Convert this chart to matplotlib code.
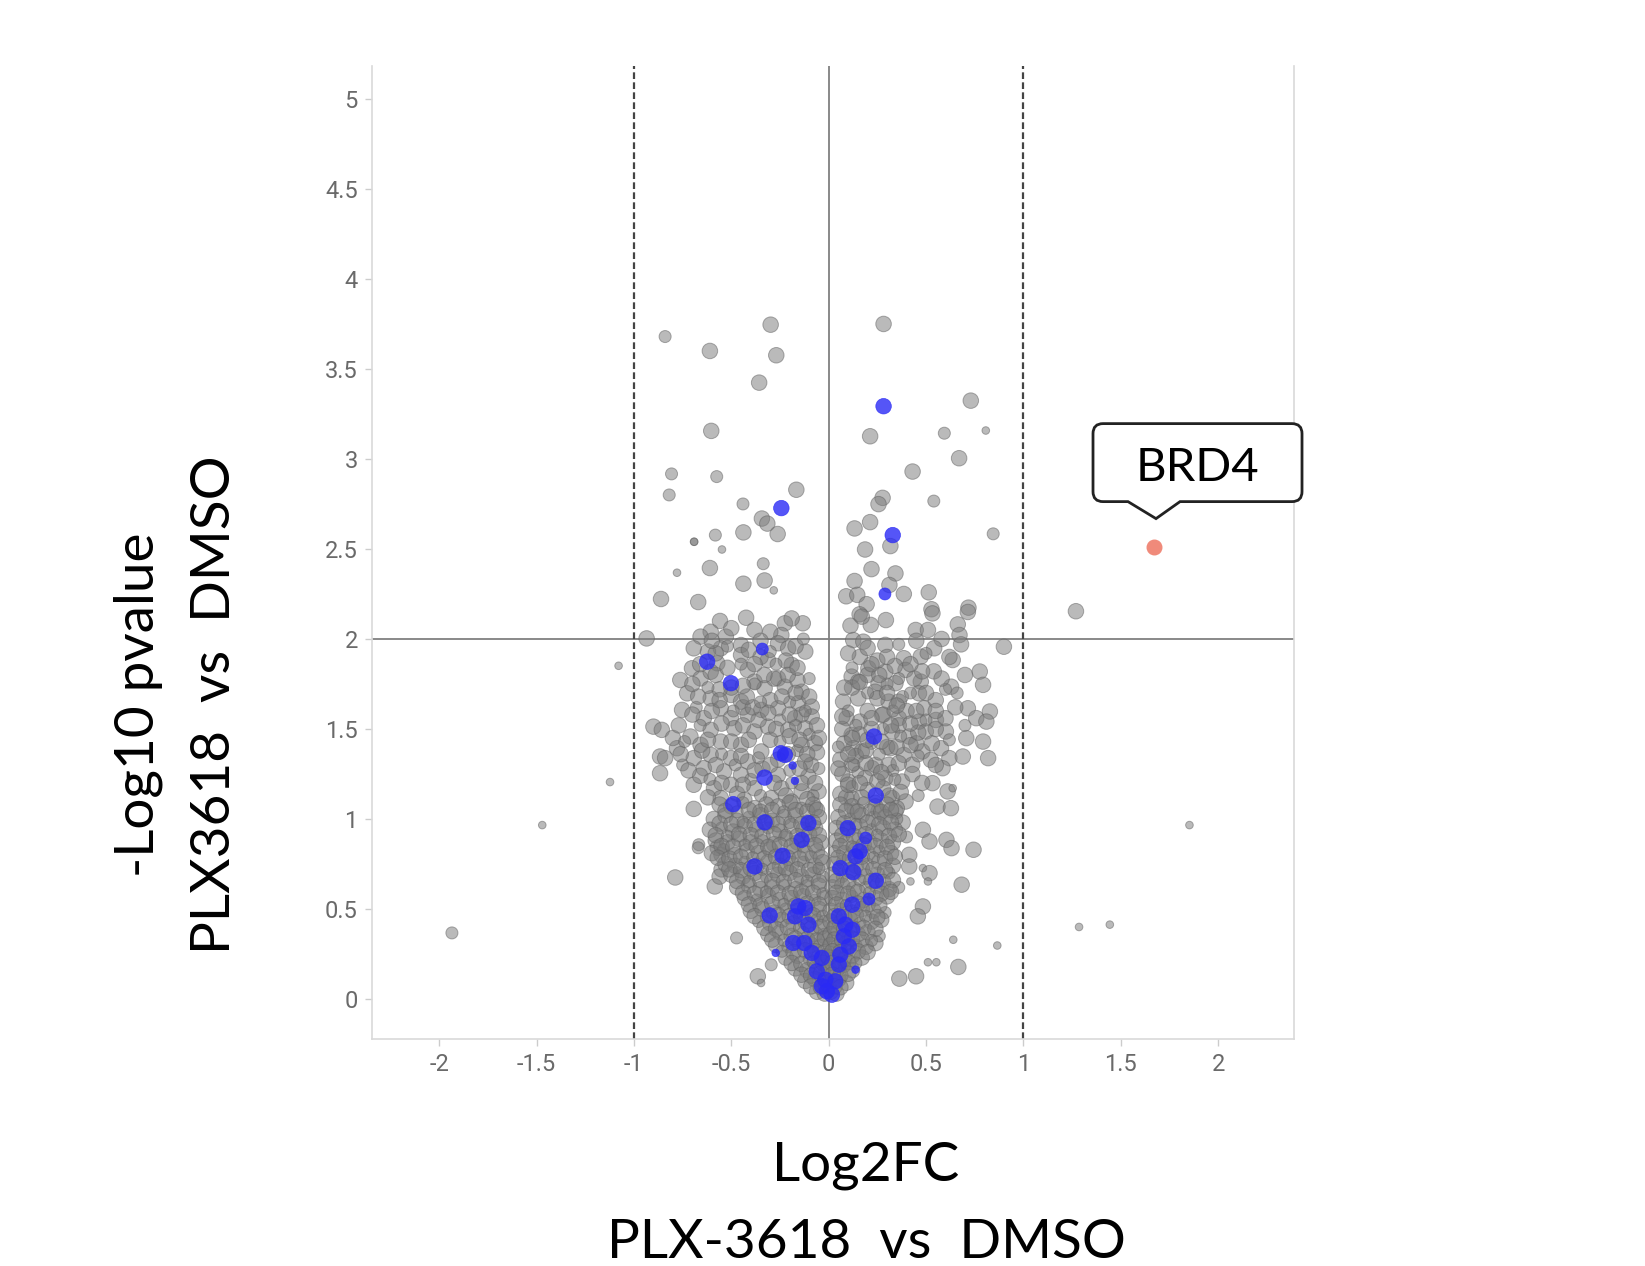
import numpy as np
import matplotlib

matplotlib.use('Agg')
import matplotlib.pyplot as plt
from matplotlib.path import Path
from matplotlib.patches import PathPatch
from matplotlib.transforms import IdentityTransform

# ---- data: (log2FC, -log10 p, weight 1=small 2=medium 3=large) ----
gray_upper = [
    (-0.298, 3.746, 3), (-0.84, 3.68, 2), (-0.61, 3.60, 3), (-0.269, 3.576, 3),
    (-0.357, 3.424, 3), (-0.603, 3.156, 3), (-0.807, 2.917, 2), (-0.575, 2.902, 2),
    (-0.819, 2.80, 2), (-0.166, 2.829, 3), (-0.44, 2.75, 2), (-0.343, 2.669, 3),
    (-0.315, 2.641, 3), (-0.262, 2.583, 3), (-0.438, 2.592, 3), (-0.582, 2.577, 2),
    (-0.691, 2.54, 1), (-0.691, 2.54, 1), (-0.548, 2.497, 1), (-0.61, 2.394, 3),
    (-0.336, 2.418, 2), (-0.779, 2.368, 1), (-0.438, 2.307, 3), (-0.329, 2.325, 3),
    (-0.282, 2.27, 1), (-0.861, 2.222, 3), (-0.67, 2.205, 3), (-0.935, 2.003, 3),
    (-0.558, 2.10, 3), (-0.424, 2.118, 3), (-0.606, 2.04, 3), (-0.381, 2.05, 3),
    (-0.225, 2.087, 3), (-0.133, 2.087, 3), (-0.19, 2.114, 3), (-0.528, 2.013, 3),
    (-0.658, 2.013, 3), (-0.243, 2.022, 3), (-0.50, 2.06, 3), (-0.30, 2.04, 3),
    (0.282, 3.75, 3), (0.73, 3.324, 3), (0.213, 3.126, 3), (0.594, 3.143, 2),
    (0.807, 3.158, 1), (0.67, 3.004, 3), (0.431, 2.93, 3), (0.277, 2.784, 3),
    (0.256, 2.749, 3), (0.54, 2.766, 2), (0.133, 2.614, 3), (0.213, 2.649, 3),
    (0.317, 2.516, 3), (0.845, 2.584, 2), (0.187, 2.497, 3), (0.22, 2.388, 3),
    (0.343, 2.364, 3), (0.133, 2.322, 3), (0.312, 2.30, 3), (0.386, 2.25, 3),
    (0.514, 2.259, 3), (0.09, 2.237, 3), (0.147, 2.245, 3), (0.195, 2.193, 3),
    (0.528, 2.165, 3), (0.718, 2.174, 3), (0.159, 2.137, 3), (0.294, 2.105, 3),
    (0.112, 2.074, 3), (0.216, 2.078, 3), (0.447, 2.05, 3), (0.51, 2.05, 3),
    (0.663, 2.081, 3), (0.58, 2.0, 3), (0.90, 1.957, 3), (0.17, 2.124, 3),
    (0.126, 1.994, 3), (0.178, 1.985, 3), (0.291, 1.967, 3),
    (0.533, 2.142, 3), (0.672, 2.022, 3), (0.715, 2.15, 3), (0.542, 1.948, 3),
]

gray_outliers = [
    (-1.935, 0.367, 2), (-1.471, 0.966, 1), (-1.123, 1.205, 1), (-1.079, 1.851, 1),
    (1.27, 2.154, 3), (1.853, 0.966, 1), (1.286, 0.40, 1), (1.444, 0.413, 1),
    (0.866, 0.297, 1),
]

gray_left_cloud = [
    (-0.693, 1.948, 3), (-0.554, 1.948, 3), (-0.45, 1.966, 3), (-0.45, 1.911, 3),
    (-0.26, 1.976, 3), (-0.208, 1.948, 3), (-0.312, 1.883, 3), (-0.19, 1.856, 3),
    (-0.572, 1.865, 3), (-0.702, 1.837, 3), (-0.762, 1.772, 3), (-0.658, 1.781, 3),
    (-0.606, 1.818, 3), (-0.416, 1.828, 3), (-0.381, 1.763, 3), (-0.26, 1.781, 3),
    (-0.225, 1.735, 3), (-0.329, 1.726, 3), (-0.727, 1.698, 3), (-0.606, 1.67, 3),
    (-0.502, 1.689, 3), (-0.45, 1.652, 3), (-0.139, 1.707, 3), (-0.156, 1.643, 3),
    (-0.087, 1.624, 3), (-0.753, 1.606, 3), (-0.554, 1.615, 3), (-0.346, 1.606, 3),
    (-0.26, 1.615, 3), (-0.641, 1.56, 3), (-0.502, 1.56, 3), (-0.416, 1.578, 3),
    (-0.173, 1.56, 3), (-0.087, 1.569, 3), (-0.90, 1.513, 3), (-0.857, 1.495, 3),
    (-0.71, 1.458, 3), (-0.606, 1.495, 3), (-0.485, 1.504, 3), (-0.381, 1.486, 3),
    (-0.312, 1.513, 3), (-0.208, 1.495, 3), (-0.121, 1.504, 3), (-0.779, 1.393, 3),
    (-0.658, 1.412, 3), (-0.554, 1.43, 3), (-0.45, 1.412, 3), (-0.346, 1.375, 3),
    (-0.139, 1.412, 3), (-0.07, 1.421, 3), (-0.866, 1.347, 3), (-0.84, 1.338, 3),
    (-0.693, 1.338, 3), (-0.606, 1.356, 3), (-0.502, 1.338, 3), (-0.416, 1.319, 3),
    (-0.121, 1.319, 3), (-0.866, 1.254, 3), (-0.641, 1.282, 3), (-0.537, 1.264, 3),
    (-0.45, 1.245, 3), (-0.26, 1.245, 3), (-0.104, 1.236, 3), (-0.693, 1.19, 3),
    (-0.589, 1.171, 3), (-0.502, 1.19, 3), (-0.381, 1.171, 3), (-0.243, 1.171, 3),
    (-0.139, 1.153, 3), (-0.052, 1.153, 3), (-0.554, 1.116, 3), (-0.433, 1.106, 3),
    (-0.295, 1.116, 3), (-0.191, 1.097, 3), (-0.07, 1.06, 3),
    (-0.08, 1.13, 2), (-0.14, 1.20, 3), (-0.20, 1.27, 2), (-0.09, 1.30, 3),
    (-0.26, 1.33, 3), (-0.16, 1.38, 2), (-0.06, 1.37, 3), (-0.30, 1.44, 3),
    (-0.20, 1.46, 3), (-0.10, 1.47, 2), (-0.36, 1.55, 3), (-0.25, 1.55, 2),
    (-0.14, 1.58, 3), (-0.44, 1.62, 3), (-0.30, 1.66, 3), (-0.20, 1.65, 2),
    (-0.10, 1.68, 3), (-0.50, 1.73, 3), (-0.38, 1.75, 2), (-0.28, 1.78, 3),
    (-0.16, 1.77, 3), (-0.58, 1.80, 3), (-0.45, 1.86, 2), (-0.35, 1.90, 3),
    (-0.22, 1.88, 3), (-0.12, 1.93, 3), (-0.62, 1.93, 3), (-0.52, 1.96, 2),
    (-0.40, 1.22, 2), (-0.34, 1.28, 3), (-0.55, 1.36, 2), (-0.66, 1.24, 3),
    (-0.75, 1.30, 2), (-0.80, 1.45, 3), (-0.68, 1.62, 2), (-0.56, 1.72, 3),
]

gray_left_fill = [
    (-0.62, 1.12, 3), (-0.47, 1.14, 3), (-0.35, 1.13, 2), (-0.22, 1.13, 3), (-0.11, 1.11, 3),
    (-0.61, 1.22, 2), (-0.55, 1.20, 3), (-0.44, 1.19, 3), (-0.28, 1.20, 3), (-0.19, 1.20, 2),
    (-0.07, 1.20, 3), (-0.72, 1.27, 3), (-0.58, 1.30, 3), (-0.48, 1.30, 2), (-0.38, 1.27, 3),
    (-0.30, 1.30, 3), (-0.15, 1.28, 3), (-0.05, 1.28, 2), (-0.76, 1.36, 3), (-0.65, 1.38, 3),
    (-0.45, 1.35, 3), (-0.36, 1.34, 2), (-0.21, 1.36, 3), (-0.11, 1.36, 3), (-0.74, 1.43, 2),
    (-0.62, 1.44, 3), (-0.50, 1.43, 3), (-0.41, 1.44, 3), (-0.25, 1.43, 2), (-0.15, 1.44, 3),
    (-0.05, 1.45, 3), (-0.77, 1.52, 3), (-0.66, 1.52, 2), (-0.55, 1.53, 3), (-0.44, 1.52, 3),
    (-0.27, 1.50, 3), (-0.17, 1.52, 2), (-0.06, 1.52, 3), (-0.70, 1.58, 3), (-0.60, 1.60, 3),
    (-0.49, 1.60, 2), (-0.39, 1.62, 3), (-0.31, 1.59, 3), (-0.20, 1.58, 3), (-0.12, 1.60, 2),
    (-0.67, 1.68, 3), (-0.56, 1.66, 3), (-0.42, 1.68, 3), (-0.35, 1.65, 2), (-0.24, 1.68, 3),
    (-0.17, 1.70, 3), (-0.70, 1.75, 3), (-0.62, 1.73, 2), (-0.44, 1.74, 3), (-0.33, 1.80, 3),
    (-0.21, 1.80, 3), (-0.10, 1.78, 2), (-0.66, 1.86, 3), (-0.52, 1.84, 3), (-0.38, 1.86, 3),
    (-0.27, 1.86, 2), (-0.16, 1.84, 3), (-0.58, 1.92, 3), (-0.41, 1.94, 3), (-0.30, 1.93, 2),
    (-0.17, 1.96, 3), (-0.60, 1.99, 3), (-0.35, 1.99, 3), (-0.13, 2.00, 2),
]

gray_right_cloud = [
    (0.473, 1.902, 3), (0.386, 1.893, 3), (0.637, 1.883, 3), (0.776, 1.819, 3),
    (0.793, 1.745, 3), (0.629, 1.735, 3), (0.118, 1.791, 3), (0.204, 1.837, 3),
    (0.291, 1.818, 3), (0.395, 1.828, 3), (0.152, 1.763, 3), (0.256, 1.754, 3),
    (0.343, 1.754, 3), (0.473, 1.763, 3), (0.074, 1.652, 3), (0.152, 1.67, 3),
    (0.239, 1.707, 3), (0.308, 1.652, 3), (0.36, 1.652, 3), (0.464, 1.698, 3),
    (0.49, 1.615, 3), (0.715, 1.615, 3), (0.828, 1.597, 3), (0.092, 1.56, 3),
    (0.161, 1.541, 3), (0.274, 1.578, 3), (0.36, 1.56, 3), (0.464, 1.541, 3),
    (0.551, 1.55, 3), (0.758, 1.56, 3), (0.81, 1.541, 3), (0.602, 1.486, 3),
    (0.707, 1.449, 3), (0.793, 1.43, 3), (0.118, 1.467, 3), (0.326, 1.486, 3),
    (0.412, 1.458, 3), (0.499, 1.486, 3), (0.126, 1.393, 3), (0.17, 1.375, 3),
    (0.317, 1.393, 3), (0.386, 1.356, 3), (0.481, 1.375, 3), (0.577, 1.393, 3),
    (0.62, 1.338, 3), (0.689, 1.347, 3), (0.819, 1.338, 3), (0.118, 1.301, 3),
    (0.222, 1.282, 3), (0.308, 1.301, 3), (0.429, 1.301, 3), (0.525, 1.328, 3),
    (0.585, 1.282, 3), (0.10, 1.208, 3), (0.187, 1.227, 3), (0.291, 1.227, 3),
    (0.377, 1.208, 3), (0.533, 1.199, 3), (0.611, 1.153, 3), (0.637, 1.171, 1),
    (0.118, 1.116, 3), (0.326, 1.116, 3), (0.395, 1.097, 3), (0.559, 1.069, 3),
    (0.628, 1.06, 3), (0.135, 1.042, 3), (0.256, 1.042, 3), (0.343, 1.042, 3),
    (0.06, 1.14, 3), (0.12, 1.18, 2), (0.20, 1.16, 3), (0.28, 1.17, 3),
    (0.07, 1.25, 3), (0.15, 1.26, 2), (0.24, 1.30, 3), (0.33, 1.27, 2),
    (0.06, 1.33, 3), (0.14, 1.35, 3), (0.22, 1.42, 2), (0.30, 1.40, 3),
    (0.08, 1.42, 3), (0.16, 1.47, 3), (0.28, 1.50, 2), (0.36, 1.52, 3),
    (0.10, 1.60, 2), (0.20, 1.60, 3), (0.28, 1.58, 3), (0.40, 1.60, 3),
    (0.25, 1.67, 3), (0.38, 1.68, 2), (0.12, 1.73, 3), (0.20, 1.80, 3),
    (0.30, 1.75, 2), (0.25, 1.88, 3), (0.34, 1.85, 3), (0.16, 1.90, 3),
    (0.44, 1.78, 3), (0.42, 1.70, 2), (0.55, 1.66, 3), (0.66, 1.70, 2),
    (0.54, 1.82, 3), (0.70, 1.52, 2), (0.45, 1.42, 3), (0.62, 1.44, 2),
]

gray_right_fill = [
    (0.09, 1.12, 3), (0.17, 1.12, 3), (0.24, 1.10, 2), (0.31, 1.13, 3), (0.37, 1.15, 3),
    (0.46, 1.13, 2), (0.10, 1.19, 3), (0.16, 1.20, 3), (0.25, 1.21, 3), (0.34, 1.22, 2),
    (0.43, 1.25, 3), (0.48, 1.20, 3), (0.05, 1.28, 3), (0.13, 1.30, 2), (0.19, 1.31, 3),
    (0.27, 1.26, 3), (0.36, 1.31, 3), (0.46, 1.35, 2), (0.55, 1.30, 3), (0.10, 1.36, 3),
    (0.19, 1.38, 3), (0.26, 1.36, 2), (0.35, 1.40, 3), (0.42, 1.41, 3), (0.53, 1.42, 3),
    (0.05, 1.40, 2), (0.12, 1.45, 3), (0.20, 1.44, 3), (0.27, 1.43, 3), (0.37, 1.46, 2),
    (0.46, 1.48, 3), (0.55, 1.50, 3), (0.07, 1.50, 3), (0.14, 1.52, 2), (0.22, 1.50, 3),
    (0.32, 1.52, 3), (0.42, 1.53, 3), (0.50, 1.55, 2), (0.60, 1.56, 3), (0.07, 1.57, 3),
    (0.22, 1.56, 3), (0.33, 1.60, 2), (0.45, 1.60, 3), (0.55, 1.60, 3), (0.65, 1.62, 3),
    (0.20, 1.70, 2), (0.30, 1.70, 3), (0.35, 1.63, 3), (0.50, 1.70, 3), (0.60, 1.72, 2),
    (0.08, 1.73, 3), (0.16, 1.76, 3), (0.26, 1.80, 3), (0.36, 1.78, 2), (0.48, 1.82, 3),
    (0.58, 1.78, 3), (0.70, 1.80, 3), (0.12, 1.84, 2), (0.22, 1.86, 3), (0.30, 1.90, 3),
    (0.42, 1.86, 3), (0.50, 1.92, 2), (0.62, 1.90, 3), (0.10, 1.92, 3), (0.20, 1.95, 3),
    (0.36, 1.97, 2), (0.45, 1.99, 3), (0.68, 1.97, 3),
]

gray_lower_out = [
    (-0.693, 1.056, 3), (-0.667, 0.857, 2), (-0.67, 0.84, 2), (-0.788, 0.675, 3),
    (-0.585, 0.625, 3), (-0.471, 0.714, 1), (-0.473, 0.339, 2), (-0.295, 0.19, 2),
    (-0.364, 0.126, 3), (-0.347, 0.089, 1), (-0.57, 0.84, 3), (-0.55, 0.80, 3),
    (-0.55, 0.72, 3), (-0.56, 0.68, 3),
    (0.484, 0.94, 3), (0.518, 0.875, 3),
    (0.605, 0.884, 3), (0.631, 0.838, 3), (0.744, 0.829, 3), (0.414, 0.801, 3),
    (0.414, 0.736, 3), (0.484, 0.727, 1), (0.518, 0.699, 3), (0.42, 0.653, 1),
    (0.51, 0.653, 1), (0.683, 0.635, 3), (0.484, 0.514, 3), (0.458, 0.459, 3),
    (0.64, 0.329, 1), (0.51, 0.204, 1), (0.553, 0.204, 1), (0.666, 0.178, 3),
    (0.363, 0.113, 3), (0.449, 0.126, 3), (0.38, 0.98, 3), (0.40, 0.90, 2),
]

gray_core_left = [
    (-0.56, 1.08, 3), (-0.50, 1.07, 3), (-0.44, 1.09, 2), (-0.38, 1.06, 3), (-0.32, 1.08, 3),
    (-0.26, 1.07, 3), (-0.20, 1.09, 3), (-0.14, 1.06, 2), (-0.08, 1.08, 3),
    (-0.59, 1.00, 3), (-0.53, 1.02, 3), (-0.47, 0.99, 3), (-0.41, 1.01, 2), (-0.35, 1.02, 3),
    (-0.29, 0.99, 3), (-0.23, 1.01, 3), (-0.17, 1.02, 3), (-0.11, 0.99, 2), (-0.05, 1.01, 3),
    (-0.61, 0.94, 3), (-0.55, 0.95, 2), (-0.49, 0.93, 3), (-0.43, 0.96, 3), (-0.37, 0.94, 3),
    (-0.31, 0.95, 2), (-0.25, 0.93, 3), (-0.19, 0.96, 3), (-0.13, 0.94, 3), (-0.07, 0.95, 3),
    (-0.58, 0.88, 3), (-0.52, 0.87, 3), (-0.46, 0.89, 3), (-0.40, 0.87, 3), (-0.34, 0.88, 2),
    (-0.28, 0.86, 3), (-0.22, 0.89, 3), (-0.16, 0.87, 3), (-0.10, 0.88, 2), (-0.04, 0.87, 3),
    (-0.60, 0.81, 3), (-0.54, 0.83, 2), (-0.48, 0.80, 3), (-0.42, 0.82, 3), (-0.36, 0.81, 3),
    (-0.30, 0.83, 3), (-0.24, 0.80, 2), (-0.18, 0.82, 3), (-0.12, 0.81, 3), (-0.06, 0.82, 3),
    (-0.53, 0.75, 3), (-0.48, 0.74, 3), (-0.43, 0.76, 2), (-0.37, 0.74, 3), (-0.31, 0.76, 3),
    (-0.25, 0.74, 3), (-0.19, 0.75, 3), (-0.13, 0.76, 2), (-0.07, 0.74, 3), (-0.03, 0.76, 3),
    (-0.50, 0.69, 3), (-0.44, 0.68, 3), (-0.38, 0.70, 3), (-0.32, 0.68, 2), (-0.26, 0.69, 3),
    (-0.20, 0.70, 3), (-0.14, 0.68, 3), (-0.08, 0.69, 3), (-0.03, 0.68, 2),
    (-0.47, 0.62, 3), (-0.41, 0.63, 3), (-0.35, 0.61, 3), (-0.29, 0.62, 3), (-0.23, 0.63, 2),
    (-0.17, 0.61, 3), (-0.11, 0.62, 3), (-0.05, 0.63, 3),
    (-0.43, 0.56, 3), (-0.37, 0.55, 2), (-0.31, 0.57, 3), (-0.25, 0.55, 3), (-0.19, 0.56, 3),
    (-0.13, 0.57, 3), (-0.07, 0.55, 2), (-0.02, 0.56, 3),
    (-0.40, 0.49, 3), (-0.34, 0.50, 3), (-0.28, 0.48, 3), (-0.22, 0.50, 2), (-0.16, 0.49, 3),
    (-0.10, 0.48, 3), (-0.05, 0.50, 3),
    (-0.36, 0.43, 2), (-0.30, 0.42, 3), (-0.24, 0.44, 3), (-0.18, 0.42, 3), (-0.12, 0.43, 3),
    (-0.06, 0.44, 2), (-0.02, 0.42, 3),
    (-0.31, 0.36, 3), (-0.25, 0.37, 3), (-0.19, 0.35, 3), (-0.13, 0.37, 2), (-0.07, 0.36, 3),
    (-0.02, 0.35, 3),
    (-0.27, 0.30, 3), (-0.21, 0.29, 2), (-0.15, 0.31, 3), (-0.09, 0.30, 3), (-0.04, 0.29, 3),
    (-0.22, 0.23, 3), (-0.16, 0.24, 3), (-0.10, 0.22, 2), (-0.05, 0.23, 3), (-0.01, 0.24, 3),
    (-0.17, 0.17, 3), (-0.11, 0.16, 3), (-0.06, 0.18, 3), (-0.02, 0.16, 2),
    (-0.12, 0.10, 3), (-0.07, 0.11, 3), (-0.02, 0.09, 3),
    (-0.06, 0.04, 3), (-0.02, 0.03, 3),
    (-0.53, 1.045, 3), (-0.47, 1.04, 2), (-0.41, 1.05, 3), (-0.35, 1.04, 3), (-0.29, 1.05, 3),
    (-0.23, 1.04, 2), (-0.17, 1.05, 3), (-0.11, 1.04, 3), (-0.06, 1.05, 3),
    (-0.56, 0.975, 3), (-0.50, 0.97, 3), (-0.44, 0.98, 2), (-0.38, 0.97, 3), (-0.32, 0.98, 3),
    (-0.26, 0.97, 3), (-0.20, 0.98, 2), (-0.14, 0.97, 3), (-0.08, 0.98, 3),
    (-0.58, 0.91, 3), (-0.52, 0.905, 2), (-0.46, 0.915, 3), (-0.40, 0.91, 3), (-0.34, 0.905, 3),
    (-0.28, 0.915, 3), (-0.22, 0.91, 2), (-0.16, 0.905, 3), (-0.10, 0.915, 3), (-0.05, 0.91, 3),
    (-0.55, 0.85, 3), (-0.49, 0.845, 3), (-0.43, 0.855, 2), (-0.37, 0.85, 3), (-0.31, 0.845, 3),
    (-0.25, 0.855, 3), (-0.19, 0.85, 3), (-0.13, 0.845, 2), (-0.07, 0.855, 3),
    (-0.57, 0.785, 3), (-0.51, 0.78, 3), (-0.45, 0.79, 3), (-0.39, 0.785, 2), (-0.33, 0.78, 3),
    (-0.27, 0.79, 3), (-0.21, 0.785, 3), (-0.15, 0.78, 3), (-0.09, 0.79, 2), (-0.04, 0.785, 3),
    (-0.51, 0.72, 3), (-0.45, 0.715, 3), (-0.40, 0.725, 3), (-0.34, 0.72, 2), (-0.28, 0.715, 3),
    (-0.22, 0.725, 3), (-0.16, 0.72, 3), (-0.10, 0.715, 3), (-0.05, 0.725, 2),
    (-0.47, 0.655, 3), (-0.41, 0.65, 2), (-0.35, 0.66, 3), (-0.29, 0.655, 3), (-0.23, 0.65, 3),
    (-0.17, 0.66, 3), (-0.11, 0.655, 2), (-0.05, 0.65, 3),
    (-0.44, 0.59, 3), (-0.38, 0.585, 3), (-0.32, 0.595, 2), (-0.26, 0.59, 3), (-0.20, 0.585, 3),
    (-0.14, 0.595, 3), (-0.08, 0.59, 3), (-0.03, 0.585, 2),
    (-0.41, 0.525, 3), (-0.35, 0.52, 3), (-0.29, 0.53, 3), (-0.23, 0.525, 2), (-0.17, 0.52, 3),
    (-0.11, 0.53, 3), (-0.05, 0.525, 3),
    (-0.38, 0.46, 3), (-0.32, 0.455, 2), (-0.26, 0.465, 3), (-0.20, 0.46, 3), (-0.14, 0.455, 3),
    (-0.08, 0.465, 3), (-0.03, 0.46, 2),
    (-0.33, 0.395, 3), (-0.27, 0.39, 3), (-0.21, 0.40, 3), (-0.15, 0.395, 2), (-0.09, 0.39, 3),
    (-0.04, 0.40, 3),
    (-0.29, 0.33, 3), (-0.23, 0.325, 2), (-0.17, 0.335, 3), (-0.11, 0.33, 3), (-0.06, 0.325, 3),
    (-0.02, 0.335, 3),
    (-0.24, 0.265, 2), (-0.18, 0.26, 3), (-0.12, 0.27, 3), (-0.07, 0.265, 3), (-0.02, 0.26, 3),
    (-0.19, 0.20, 3), (-0.14, 0.195, 3), (-0.08, 0.205, 2), (-0.03, 0.20, 3),
    (-0.14, 0.135, 3), (-0.09, 0.13, 3), (-0.04, 0.14, 3),
    (-0.09, 0.07, 3), (-0.04, 0.065, 3), (0.00, 0.075, 3),
]

gray_core_right = [
    (0.06, 1.08, 3), (0.12, 1.07, 3), (0.18, 1.09, 2), (0.24, 1.07, 3), (0.30, 1.08, 3), (0.35, 1.06, 3),
    (0.05, 1.01, 3), (0.11, 1.00, 2), (0.17, 1.02, 3), (0.23, 1.00, 3), (0.29, 1.01, 3), (0.35, 1.00, 2),
    (0.04, 0.95, 3), (0.10, 0.94, 3), (0.16, 0.96, 3), (0.22, 0.94, 2), (0.28, 0.95, 3), (0.34, 0.94, 3),
    (0.04, 0.88, 3), (0.09, 0.87, 3), (0.15, 0.89, 2), (0.21, 0.87, 3), (0.27, 0.88, 3), (0.33, 0.87, 3),
    (0.03, 0.82, 2), (0.08, 0.81, 3), (0.14, 0.83, 3), (0.20, 0.81, 3), (0.26, 0.82, 2), (0.32, 0.81, 3),
    (0.03, 0.75, 3), (0.08, 0.76, 3), (0.14, 0.74, 3), (0.20, 0.75, 2), (0.26, 0.76, 3), (0.33, 0.74, 3),
    (0.02, 0.69, 3), (0.07, 0.68, 2), (0.13, 0.70, 3), (0.19, 0.68, 3), (0.25, 0.69, 3), (0.31, 0.70, 2),
    (0.02, 0.62, 3), (0.07, 0.63, 3), (0.13, 0.61, 3), (0.19, 0.62, 2), (0.25, 0.63, 3), (0.31, 0.61, 3),
    (0.36, 0.62, 2),
    (0.02, 0.56, 3), (0.07, 0.55, 3), (0.12, 0.57, 2), (0.18, 0.55, 3), (0.24, 0.56, 3), (0.30, 0.57, 3),
    (0.01, 0.49, 3), (0.06, 0.50, 2), (0.12, 0.48, 3), (0.17, 0.50, 3), (0.23, 0.49, 3), (0.29, 0.48, 2),
    (0.01, 0.43, 3), (0.06, 0.42, 3), (0.11, 0.44, 3), (0.16, 0.42, 2), (0.22, 0.43, 3), (0.27, 0.44, 3),
    (0.01, 0.36, 3), (0.05, 0.37, 3), (0.10, 0.35, 2), (0.15, 0.36, 3), (0.20, 0.37, 3), (0.26, 0.35, 2),
    (0.01, 0.30, 3), (0.05, 0.29, 3), (0.09, 0.31, 3), (0.14, 0.30, 2), (0.19, 0.29, 3), (0.24, 0.31, 3),
    (0.00, 0.23, 3), (0.04, 0.24, 2), (0.08, 0.22, 3), (0.12, 0.24, 3), (0.17, 0.23, 3),
    (0.00, 0.17, 3), (0.04, 0.16, 3), (0.08, 0.18, 2), (0.12, 0.16, 3),
    (0.01, 0.10, 3), (0.05, 0.11, 3), (0.09, 0.09, 3),
    (0.01, 0.04, 3), (0.04, 0.03, 3),
    (0.09, 1.045, 3), (0.15, 1.04, 3), (0.21, 1.05, 2), (0.27, 1.04, 3), (0.32, 1.05, 3),
    (0.08, 0.975, 3), (0.14, 0.97, 2), (0.20, 0.98, 3), (0.26, 0.97, 3), (0.32, 0.98, 3),
    (0.07, 0.91, 3), (0.13, 0.905, 3), (0.19, 0.915, 3), (0.25, 0.91, 2), (0.31, 0.905, 3), (0.36, 0.915, 3),
    (0.06, 0.85, 3), (0.12, 0.845, 2), (0.18, 0.855, 3), (0.24, 0.85, 3), (0.30, 0.845, 3),
    (0.05, 0.785, 3), (0.11, 0.78, 3), (0.17, 0.79, 3), (0.23, 0.785, 2), (0.29, 0.78, 3), (0.34, 0.79, 3),
    (0.05, 0.72, 2), (0.11, 0.715, 3), (0.17, 0.725, 3), (0.23, 0.72, 3), (0.29, 0.715, 3),
    (0.04, 0.655, 3), (0.10, 0.65, 3), (0.16, 0.66, 2), (0.22, 0.655, 3), (0.28, 0.65, 3), (0.33, 0.66, 3),
    (0.04, 0.59, 3), (0.10, 0.585, 3), (0.15, 0.595, 3), (0.21, 0.59, 2), (0.27, 0.585, 3), (0.32, 0.595, 3),
    (0.04, 0.525, 3), (0.09, 0.52, 2), (0.15, 0.53, 3), (0.20, 0.525, 3), (0.26, 0.52, 3),
    (0.03, 0.46, 3), (0.08, 0.455, 3), (0.14, 0.465, 3), (0.19, 0.46, 2), (0.25, 0.455, 3),
    (0.03, 0.395, 3), (0.08, 0.39, 3), (0.13, 0.40, 2), (0.18, 0.395, 3), (0.24, 0.39, 3),
    (0.03, 0.33, 3), (0.07, 0.325, 3), (0.12, 0.335, 3), (0.17, 0.33, 3), (0.22, 0.325, 2),
    (0.02, 0.265, 3), (0.06, 0.26, 3), (0.10, 0.27, 2), (0.15, 0.265, 3), (0.20, 0.26, 3),
    (0.02, 0.20, 3), (0.06, 0.195, 3), (0.10, 0.205, 3), (0.14, 0.20, 2),
    (0.02, 0.135, 3), (0.06, 0.13, 3), (0.10, 0.14, 3),
    (0.03, 0.07, 3), (0.06, 0.065, 3),
]

blue_pts = [
    (0.282, 3.293, 3), (-0.243, 2.727, 3), (0.329, 2.577, 3), (0.289, 2.25, 2),
    (-0.341, 1.944, 2), (-0.624, 1.874, 3), (-0.502, 1.754, 3), (0.233, 1.458, 3),
    (-0.246, 1.365, 3), (-0.225, 1.356, 3), (-0.185, 1.297, 1), (-0.173, 1.212, 1),
    (-0.329, 1.23, 3), (-0.49, 1.082, 3), (0.242, 1.13, 3), (-0.329, 0.981, 3),
    (-0.104, 0.977, 3), (-0.139, 0.884, 3), (0.098, 0.949, 3), (0.19, 0.894, 2),
    (0.159, 0.82, 3), (0.138, 0.792, 3), (-0.237, 0.796, 3), (-0.381, 0.736, 3),
    (0.06, 0.727, 3), (0.126, 0.705, 3), (0.242, 0.657, 3), (0.207, 0.555, 2),
    (0.121, 0.524, 3), (-0.156, 0.514, 3), (-0.121, 0.505, 3), (-0.303, 0.464, 3),
    (-0.173, 0.459, 3), (-0.104, 0.413, 3), (0.052, 0.459, 3), (0.086, 0.413, 3),
    (0.121, 0.385, 3), (0.078, 0.348, 3), (-0.182, 0.311, 3), (-0.125, 0.311, 3),
    (0.104, 0.292, 3), (-0.087, 0.256, 3), (-0.035, 0.228, 3), (-0.272, 0.256, 1),
    (0.06, 0.246, 3), (0.052, 0.191, 3), (0.138, 0.163, 1), (-0.061, 0.154, 3),
    (-0.017, 0.107, 3), (0.034, 0.098, 3), (-0.009, 0.043, 3), (0.017, 0.024, 3),
    (-0.035, 0.071, 3),
]

brd4 = (1.671, 2.513)
brd4_label = 'BRD4'

fc_cut = 1.0
p_cut = 2.0
x_ticks = [-2, -1.5, -1, -0.5, 0, 0.5, 1, 1.5, 2]
x_tick_labels = ['-2', '-1.5', '-1', '-0.5', '0', '0.5', '1', '1.5', '2']
y_ticks = [0, 0.5, 1, 1.5, 2, 2.5, 3, 3.5, 4, 4.5, 5]
y_tick_labels = ['0', '0.5', '1', '1.5', '2', '2.5', '3', '3.5', '4', '4.5', '5']

size_map = {1: 30, 2: 75, 3: 125}


def unpack(pts):
    arr = np.array(pts, dtype=float)
    return arr[:, 0], arr[:, 1], np.array([size_map[int(w)] for w in arr[:, 2]])


W, H = 1645, 1266
fig = plt.figure(figsize=(W / 100, H / 100), dpi=100)
ax = fig.add_axes([371.7 / W, 1 - 1039.3 / H, (1294 - 371.7) / W, (1039.3 - 66) / H])
ax.set_xlim(-2.347, 2.39)
ax.set_ylim(-0.224, 5.183)

# 参考线
ax.axvline(0, color='#808080', lw=1.3, zorder=1)
ax.axhline(p_cut, color='#808080', lw=1.3, zorder=1)
for xv in (-fc_cut, fc_cut):
    ax.axvline(xv, color='#444444', lw=1.6, ls=(0, (3, 1.5)), zorder=1)

# 灰色点
for grp in (gray_upper, gray_outliers, gray_left_cloud, gray_left_fill, gray_right_cloud,
            gray_right_fill, gray_lower_out, gray_core_left, gray_core_right):
    gx, gy, gs = unpack(grp)
    ax.scatter(gx, gy, s=gs, facecolor='#7c7c7c', edgecolor='#626262',
               linewidth=0.7, alpha=0.52, zorder=2)

bx, by, bs = unpack(blue_pts)
ax.scatter(bx, by, s=bs, facecolor='#2a2af5', edgecolor='#2a2af5',
           linewidth=0.5, alpha=0.8, zorder=3)

ax.scatter([brd4[0]], [brd4[1]], s=110, color='#f08a7a', zorder=4)

# 坐标轴样式
for side in ('left', 'bottom', 'right'):
    ax.spines[side].set_color('#d9d9d9')
    ax.spines[side].set_linewidth(1.2)
ax.spines['top'].set_visible(False)
ax.set_xticks(x_ticks)
ax.set_xticklabels(x_tick_labels)
ax.set_yticks(y_ticks)
ax.set_yticklabels(y_tick_labels)
ax.tick_params(axis='both', length=5, width=1, color='#cccccc', labelcolor='#6a6a6a',
               labelsize=17, pad=5)
for lab in ax.get_xticklabels() + ax.get_yticklabels():
    lab.set_family('Roboto')

# BRD4 标注框 (相对于点的像素偏移)
px, py = ax.transData.transform(brd4)
tx, ty = px + 2, py + 28
L, R, B, T = tx - 63, tx + 146, ty + 17, ty + 95
r = 10
verts = [
    (L + r, T), (R - r, T), (R, T), (R, T - r), (R, B + r), (R, B), (R - r, B),
    (tx + 24, B), (tx, ty), (tx - 28, B), (L + r, B), (L, B), (L, B + r),
    (L, T - r), (L, T), (L + r, T), (L + r, T),
]
codes = [Path.MOVETO, Path.LINETO, Path.CURVE3, Path.CURVE3, Path.LINETO, Path.CURVE3,
         Path.CURVE3, Path.LINETO, Path.LINETO, Path.LINETO, Path.LINETO, Path.CURVE3,
         Path.CURVE3, Path.LINETO, Path.CURVE3, Path.CURVE3, Path.CLOSEPOLY]
callout = PathPatch(Path(verts, codes), facecolor='white', edgecolor='#222222',
                    lw=2, transform=IdentityTransform(), zorder=5)
fig.add_artist(callout)
fig.text((tx + 41) / W, (ty + 51) / H, brd4_label, ha='center', va='center',
         fontsize=34, family=['Lato', 'DejaVu Sans'], color='black', zorder=6)

# 轴标题
fig.text(176 / W, 1 - 705 / H, '-Log10 pvalue\nPLX3618  vs  DMSO', rotation=90,
         ha='center', va='center', multialignment='center', fontsize=39.5,
         linespacing=1.68, family=['Lato', 'DejaVu Sans'])
fig.text(866 / W, 1 - 1204 / H, 'Log2FC\nPLX-3618  vs  DMSO', ha='center', va='center',
         multialignment='center', fontsize=39.5, linespacing=1.68,
         family=['Lato', 'DejaVu Sans'])

fig.savefig('out.png', dpi=100)
